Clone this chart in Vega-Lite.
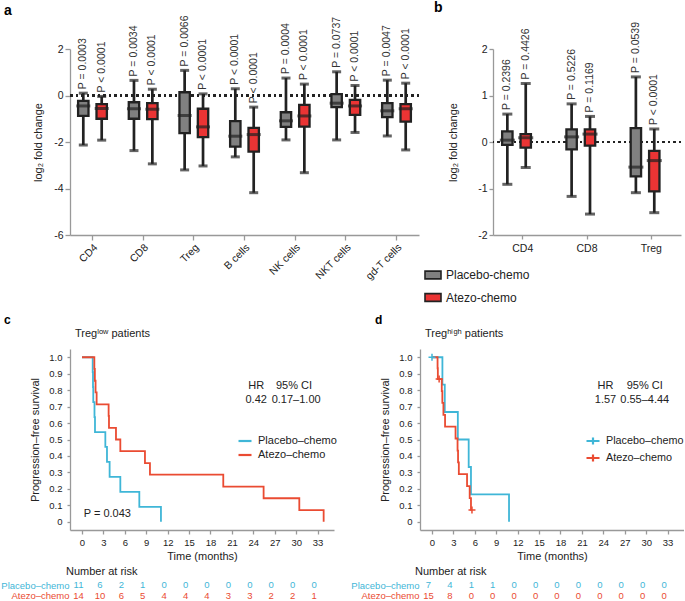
{
  "$schema": "https://vega.github.io/schema/vega-lite/v6.json",
  "padding": 0,
  "autosize": {"type": "pad"},
  "config": {
    "font": "Liberation Sans",
    "view": {"stroke": null},
    "axis": {"grid": false, "domainColor": "#999999", "tickColor": "#999999", "domainWidth": 1.3, "tickWidth": 1.3, "labelColor": "#222222", "titleColor": "#222222", "labelFontSize": 10.5, "titleFontSize": 11, "titleFontWeight": "normal", "labelOverlap": false},
    "title": {"anchor": "start", "frame": "group", "fontSize": 14, "fontWeight": "bold", "color": "#000000"},
    "legend": {"labelColor": "#222222"}
  },
  "datasets": {
    "boxA": [
      {"cell": "CD4", "group": "Placebo-chemo", "min": -2.13, "q1": -0.88, "median": -0.45, "q3": -0.23, "max": 0.1, "p": "P = 0.0003"},
      {"cell": "CD4", "group": "Atezo-chemo", "min": -1.92, "q1": -1.0, "median": -0.56, "q3": -0.37, "max": -0.04, "p": "P < 0.0001"},
      {"cell": "CD8", "group": "Placebo-chemo", "min": -2.37, "q1": -1.0, "median": -0.57, "q3": -0.29, "max": 0.65, "p": "P = 0.0034"},
      {"cell": "CD8", "group": "Atezo-chemo", "min": -2.94, "q1": -1.02, "median": -0.59, "q3": -0.33, "max": 0.27, "p": "P < 0.0001"},
      {"cell": "Treg", "group": "Placebo-chemo", "min": -3.2, "q1": -1.62, "median": -0.86, "q3": 0.14, "max": 1.08, "p": "P = 0.0066"},
      {"cell": "Treg", "group": "Atezo-chemo", "min": -3.03, "q1": -1.79, "median": -1.35, "q3": -0.57, "max": 0.07, "p": "P < 0.0001"},
      {"cell": "B cells", "group": "Placebo-chemo", "min": -2.64, "q1": -2.2, "median": -1.75, "q3": -1.1, "max": 0.29, "p": "P < 0.0001"},
      {"cell": "B cells", "group": "Atezo-chemo", "min": -4.18, "q1": -2.41, "median": -1.68, "q3": -1.39, "max": -0.5, "p": "P < 0.0001"},
      {"cell": "NK cells", "group": "Placebo-chemo", "min": -1.91, "q1": -1.35, "median": -1.09, "q3": -0.72, "max": 0.75, "p": "P = 0.0004"},
      {"cell": "NK cells", "group": "Atezo-chemo", "min": -3.32, "q1": -1.34, "median": -0.88, "q3": -0.4, "max": 0.49, "p": "P < 0.0001"},
      {"cell": "NKT cells", "group": "Placebo-chemo", "min": -1.91, "q1": -0.5, "median": -0.33, "q3": 0.06, "max": 1.02, "p": "P = 0.0737"},
      {"cell": "NKT cells", "group": "Atezo-chemo", "min": -1.59, "q1": -0.83, "median": -0.45, "q3": -0.19, "max": 0.43, "p": "P < 0.0001"},
      {"cell": "gd-T cells", "group": "Placebo-chemo", "min": -1.74, "q1": -0.93, "median": -0.66, "q3": -0.33, "max": 0.66, "p": "P = 0.0047"},
      {"cell": "gd-T cells", "group": "Atezo-chemo", "min": -2.34, "q1": -1.12, "median": -0.57, "q3": -0.37, "max": 0.53, "p": "P < 0.0001"}
    ],
    "boxB": [
      {"cell": "CD4", "group": "Placebo-chemo", "min": -0.91, "q1": -0.06, "median": 0.04, "q3": 0.23, "max": 0.6, "p": "P = 0.2396"},
      {"cell": "CD4", "group": "Atezo-chemo", "min": -0.55, "q1": -0.12, "median": 0.09, "q3": 0.17, "max": 1.26, "p": "P = 0.4426"},
      {"cell": "CD8", "group": "Placebo-chemo", "min": -1.17, "q1": -0.16, "median": 0.11, "q3": 0.27, "max": 0.82, "p": "P = 0.5226"},
      {"cell": "CD8", "group": "Atezo-chemo", "min": -1.55, "q1": -0.08, "median": 0.17, "q3": 0.27, "max": 0.55, "p": "P = 0.1169"},
      {"cell": "Treg", "group": "Placebo-chemo", "min": -1.09, "q1": -0.74, "median": -0.54, "q3": 0.3, "max": 1.4, "p": "P = 0.0539"},
      {"cell": "Treg", "group": "Atezo-chemo", "min": -1.52, "q1": -1.06, "median": -0.4, "q3": -0.19, "max": 0.28, "p": "P < 0.0001"}
    ],
    "kmC": [
      {"group": "Placebo–chemo", "t": 0, "s": 1},
      {"group": "Placebo–chemo", "t": 1.5, "s": 0.909},
      {"group": "Placebo–chemo", "t": 1.54, "s": 0.818},
      {"group": "Placebo–chemo", "t": 1.58, "s": 0.727},
      {"group": "Placebo–chemo", "t": 1.75, "s": 0.636},
      {"group": "Placebo–chemo", "t": 1.82, "s": 0.545},
      {"group": "Placebo–chemo", "t": 3.27, "s": 0.455},
      {"group": "Placebo–chemo", "t": 3.5, "s": 0.364},
      {"group": "Placebo–chemo", "t": 3.87, "s": 0.273},
      {"group": "Placebo–chemo", "t": 5.37, "s": 0.182},
      {"group": "Placebo–chemo", "t": 8.03, "s": 0.091},
      {"group": "Placebo–chemo", "t": 11.06, "s": 0},
      {"group": "Atezo–chemo", "t": 0, "s": 1},
      {"group": "Atezo–chemo", "t": 1.73, "s": 0.929},
      {"group": "Atezo–chemo", "t": 1.8, "s": 0.857},
      {"group": "Atezo–chemo", "t": 1.9, "s": 0.786},
      {"group": "Atezo–chemo", "t": 2.05, "s": 0.714},
      {"group": "Atezo–chemo", "t": 3.73, "s": 0.643},
      {"group": "Atezo–chemo", "t": 3.78, "s": 0.571},
      {"group": "Atezo–chemo", "t": 4.76, "s": 0.5},
      {"group": "Atezo–chemo", "t": 5.37, "s": 0.429},
      {"group": "Atezo–chemo", "t": 8.82, "s": 0.357},
      {"group": "Atezo–chemo", "t": 9.52, "s": 0.286},
      {"group": "Atezo–chemo", "t": 19.79, "s": 0.214},
      {"group": "Atezo–chemo", "t": 25.44, "s": 0.143},
      {"group": "Atezo–chemo", "t": 30.44, "s": 0.071},
      {"group": "Atezo–chemo", "t": 33.85, "s": 0}
    ],
    "kmD": [
      {"group": "Placebo–chemo", "t": 0, "s": 1},
      {"group": "Placebo–chemo", "t": 1.46, "s": 0.833},
      {"group": "Placebo–chemo", "t": 1.79, "s": 0.667},
      {"group": "Placebo–chemo", "t": 3.62, "s": 0.5},
      {"group": "Placebo–chemo", "t": 5.14, "s": 0.333},
      {"group": "Placebo–chemo", "t": 5.46, "s": 0.167},
      {"group": "Placebo–chemo", "t": 10.79, "s": 0},
      {"group": "Atezo–chemo", "t": 0, "s": 1},
      {"group": "Atezo–chemo", "t": 0.78, "s": 0.933},
      {"group": "Atezo–chemo", "t": 0.82, "s": 0.867},
      {"group": "Atezo–chemo", "t": 1.37, "s": 0.794},
      {"group": "Atezo–chemo", "t": 1.45, "s": 0.722},
      {"group": "Atezo–chemo", "t": 1.6, "s": 0.65},
      {"group": "Atezo–chemo", "t": 1.83, "s": 0.578},
      {"group": "Atezo–chemo", "t": 3.3, "s": 0.506},
      {"group": "Atezo–chemo", "t": 3.58, "s": 0.433},
      {"group": "Atezo–chemo", "t": 3.65, "s": 0.361},
      {"group": "Atezo–chemo", "t": 3.76, "s": 0.289},
      {"group": "Atezo–chemo", "t": 4.91, "s": 0.217},
      {"group": "Atezo–chemo", "t": 5.28, "s": 0.144},
      {"group": "Atezo–chemo", "t": 5.46, "s": 0.072},
      {"group": "Atezo–chemo", "t": 5.6, "s": 0.072}
    ],
    "censorD": [
      {"group": "Placebo–chemo", "t": 0, "s": 1},
      {"group": "Atezo–chemo", "t": 1.0, "s": 0.867},
      {"group": "Atezo–chemo", "t": 5.6, "s": 0.072}
    ],
    "riskC": [
      {"group": "Placebo–chemo", "t": 0, "n": 11}, {"group": "Placebo–chemo", "t": 3, "n": 6}, {"group": "Placebo–chemo", "t": 6, "n": 2}, {"group": "Placebo–chemo", "t": 9, "n": 1},
      {"group": "Placebo–chemo", "t": 12, "n": 0}, {"group": "Placebo–chemo", "t": 15, "n": 0}, {"group": "Placebo–chemo", "t": 18, "n": 0}, {"group": "Placebo–chemo", "t": 21, "n": 0},
      {"group": "Placebo–chemo", "t": 24, "n": 0}, {"group": "Placebo–chemo", "t": 27, "n": 0}, {"group": "Placebo–chemo", "t": 30, "n": 0}, {"group": "Placebo–chemo", "t": 33, "n": 0},
      {"group": "Atezo–chemo", "t": 0, "n": 14}, {"group": "Atezo–chemo", "t": 3, "n": 10}, {"group": "Atezo–chemo", "t": 6, "n": 6}, {"group": "Atezo–chemo", "t": 9, "n": 5},
      {"group": "Atezo–chemo", "t": 12, "n": 4}, {"group": "Atezo–chemo", "t": 15, "n": 4}, {"group": "Atezo–chemo", "t": 18, "n": 4}, {"group": "Atezo–chemo", "t": 21, "n": 3},
      {"group": "Atezo–chemo", "t": 24, "n": 3}, {"group": "Atezo–chemo", "t": 27, "n": 2}, {"group": "Atezo–chemo", "t": 30, "n": 2}, {"group": "Atezo–chemo", "t": 33, "n": 1}
    ],
    "riskD": [
      {"group": "Placebo–chemo", "t": 0, "n": 7}, {"group": "Placebo–chemo", "t": 3, "n": 4}, {"group": "Placebo–chemo", "t": 6, "n": 1}, {"group": "Placebo–chemo", "t": 9, "n": 1},
      {"group": "Placebo–chemo", "t": 12, "n": 0}, {"group": "Placebo–chemo", "t": 15, "n": 0}, {"group": "Placebo–chemo", "t": 18, "n": 0}, {"group": "Placebo–chemo", "t": 21, "n": 0},
      {"group": "Placebo–chemo", "t": 24, "n": 0}, {"group": "Placebo–chemo", "t": 27, "n": 0}, {"group": "Placebo–chemo", "t": 30, "n": 0}, {"group": "Placebo–chemo", "t": 33, "n": 0},
      {"group": "Atezo–chemo", "t": 0, "n": 15}, {"group": "Atezo–chemo", "t": 3, "n": 8}, {"group": "Atezo–chemo", "t": 6, "n": 0}, {"group": "Atezo–chemo", "t": 9, "n": 0},
      {"group": "Atezo–chemo", "t": 12, "n": 0}, {"group": "Atezo–chemo", "t": 15, "n": 0}, {"group": "Atezo–chemo", "t": 18, "n": 0}, {"group": "Atezo–chemo", "t": 21, "n": 0},
      {"group": "Atezo–chemo", "t": 24, "n": 0}, {"group": "Atezo–chemo", "t": 27, "n": 0}, {"group": "Atezo–chemo", "t": 30, "n": 0}, {"group": "Atezo–chemo", "t": 33, "n": 0}
    ]
  },
  "spacing": 9,
  "resolve": {"scale": {"color": "independent", "fill": "independent"}, "legend": {"color": "independent", "fill": "independent"}},
  "vconcat": [
    {
      "hconcat": [
        {
          "width": 349, "height": 186,
          "title": {"text": "a", "dx": -66, "offset": -3, "fontSize": 14},
          "data": {"name": "boxA"},
          "layer": [
            {"mark": {"type": "rule", "strokeDash": [2, 3.5], "strokeWidth": 2, "color": "#222222"},
             "encoding": {"y": {"datum": 0, "type": "quantitative"}}},
            {"mark": {"type": "rule", "color": "#222222", "strokeWidth": 2.7},
             "encoding": {
               "x": {"field": "cell", "type": "nominal", "sort": ["CD4", "CD8", "Treg", "B cells", "NK cells", "NKT cells", "gd-T cells"], "scale": {"paddingInner": 0.274, "paddingOuter": 0.081}, "axis": {"title": null, "labelAngle": -45, "labelFontSize": 10.5, "tickSize": 5, "labelPadding": 2}},
               "xOffset": {"field": "group", "type": "nominal", "sort": ["Placebo-chemo", "Atezo-chemo"], "scale": {"paddingInner": 0.435, "paddingOuter": 0.2175}},
               "y": {"field": "min", "type": "quantitative", "title": "log₂ fold change", "scale": {"domain": [-6, 2], "nice": false, "zero": false}, "axis": {"values": [-6, -4, -2, 0, 2], "tickSize": 5, "labelPadding": 2, "titlePadding": 10, "labelExpr": "replace(datum.label, '−', '-')"}},
               "y2": {"field": "max"}
             }},
            {"mark": {"type": "tick", "color": "#222222", "thickness": 3, "size": 9},
             "encoding": {
               "x": {"field": "cell", "type": "nominal", "sort": ["CD4", "CD8", "Treg", "B cells", "NK cells", "NKT cells", "gd-T cells"]},
               "xOffset": {"field": "group", "type": "nominal", "sort": ["Placebo-chemo", "Atezo-chemo"]},
               "y": {"field": "min", "type": "quantitative", "title": "log₂ fold change"}
             }},
            {"mark": {"type": "tick", "color": "#222222", "thickness": 3, "size": 9},
             "encoding": {
               "x": {"field": "cell", "type": "nominal", "sort": ["CD4", "CD8", "Treg", "B cells", "NK cells", "NKT cells", "gd-T cells"]},
               "xOffset": {"field": "group", "type": "nominal", "sort": ["Placebo-chemo", "Atezo-chemo"]},
               "y": {"field": "max", "type": "quantitative", "title": "log₂ fold change"}
             }},
            {"mark": {"type": "bar", "stroke": "#222222", "strokeWidth": 2.3},
             "encoding": {
               "x": {"field": "cell", "type": "nominal", "sort": ["CD4", "CD8", "Treg", "B cells", "NK cells", "NKT cells", "gd-T cells"]},
               "xOffset": {"field": "group", "type": "nominal", "sort": ["Placebo-chemo", "Atezo-chemo"]},
               "y": {"field": "q1", "type": "quantitative", "title": "log₂ fold change"},
               "y2": {"field": "q3"},
               "fill": {"field": "group", "type": "nominal", "scale": {"domain": ["Placebo-chemo", "Atezo-chemo"], "range": ["#808080", "#eb3434"]}, "legend": null}
             }},
            {"mark": {"type": "tick", "color": "#222222", "thickness": 3, "size": 14},
             "encoding": {
               "x": {"field": "cell", "type": "nominal", "sort": ["CD4", "CD8", "Treg", "B cells", "NK cells", "NKT cells", "gd-T cells"]},
               "xOffset": {"field": "group", "type": "nominal", "sort": ["Placebo-chemo", "Atezo-chemo"]},
               "y": {"field": "median", "type": "quantitative", "title": "log₂ fold change"}
             }},
            {"mark": {"type": "text", "angle": 270, "align": "left", "baseline": "middle", "dx": 4, "fontSize": 10.5, "color": "#333333"},
             "encoding": {
               "x": {"field": "cell", "type": "nominal", "sort": ["CD4", "CD8", "Treg", "B cells", "NK cells", "NKT cells", "gd-T cells"]},
               "xOffset": {"field": "group", "type": "nominal", "sort": ["Placebo-chemo", "Atezo-chemo"]},
               "y": {"field": "max", "type": "quantitative", "title": "log₂ fold change"},
               "text": {"field": "p"}
             }}
          ]
        },
        {
          "width": 188, "height": 186,
          "title": {"text": "b", "dx": -59, "offset": 7, "fontSize": 14},
          "data": {"name": "boxB"},
          "layer": [
            {"mark": {"type": "rule", "strokeDash": [2, 3.5], "strokeWidth": 2, "color": "#222222"},
             "encoding": {"y": {"datum": 0, "type": "quantitative"}}},
            {"mark": {"type": "rule", "color": "#222222", "strokeWidth": 2.7},
             "encoding": {
               "x": {"field": "cell", "type": "nominal", "sort": ["CD4", "CD8", "Treg"], "scale": {"paddingInner": 0.235, "paddingOuter": 0.08}, "axis": {"title": null, "labelAngle": 0, "labelFontSize": 10.5, "tickSize": 4, "labelPadding": 4}},
               "xOffset": {"field": "group", "type": "nominal", "sort": ["Placebo-chemo", "Atezo-chemo"], "scale": {"paddingInner": 0.606, "paddingOuter": 0.303}},
               "y": {"field": "min", "type": "quantitative", "title": "log₂ fold change", "scale": {"domain": [-2, 2], "nice": false, "zero": false}, "axis": {"values": [-2, -1, 0, 1, 2], "tickSize": 4, "labelPadding": 2, "titlePadding": 19, "labelExpr": "replace(datum.label, '−', '-')"}},
               "y2": {"field": "max"}
             }},
            {"mark": {"type": "tick", "color": "#222222", "thickness": 3, "size": 10},
             "encoding": {
               "x": {"field": "cell", "type": "nominal", "sort": ["CD4", "CD8", "Treg"]},
               "xOffset": {"field": "group", "type": "nominal", "sort": ["Placebo-chemo", "Atezo-chemo"]},
               "y": {"field": "min", "type": "quantitative", "title": "log₂ fold change"}
             }},
            {"mark": {"type": "tick", "color": "#222222", "thickness": 3, "size": 10},
             "encoding": {
               "x": {"field": "cell", "type": "nominal", "sort": ["CD4", "CD8", "Treg"]},
               "xOffset": {"field": "group", "type": "nominal", "sort": ["Placebo-chemo", "Atezo-chemo"]},
               "y": {"field": "max", "type": "quantitative", "title": "log₂ fold change"}
             }},
            {"mark": {"type": "bar", "stroke": "#222222", "strokeWidth": 2.3},
             "encoding": {
               "x": {"field": "cell", "type": "nominal", "sort": ["CD4", "CD8", "Treg"]},
               "xOffset": {"field": "group", "type": "nominal", "sort": ["Placebo-chemo", "Atezo-chemo"]},
               "y": {"field": "q1", "type": "quantitative", "title": "log₂ fold change"},
               "y2": {"field": "q3"},
               "fill": {"field": "group", "type": "nominal", "scale": {"domain": ["Placebo-chemo", "Atezo-chemo"], "range": ["#808080", "#eb3434"]},
                 "legend": {"orient": "none", "legendX": -69, "legendY": 217, "title": null, "symbolType": "M-1,-0.48H1V0.48H-1Z", "symbolSize": 256, "symbolStrokeColor": "#222222", "symbolStrokeWidth": 1.6, "labelFontSize": 12, "labelOffset": 4, "rowPadding": 5.5}}
             }},
            {"mark": {"type": "tick", "color": "#222222", "thickness": 3, "size": 15},
             "encoding": {
               "x": {"field": "cell", "type": "nominal", "sort": ["CD4", "CD8", "Treg"]},
               "xOffset": {"field": "group", "type": "nominal", "sort": ["Placebo-chemo", "Atezo-chemo"]},
               "y": {"field": "median", "type": "quantitative", "title": "log₂ fold change"}
             }},
            {"mark": {"type": "text", "angle": 270, "align": "left", "baseline": "middle", "dx": 4, "fontSize": 10.5, "color": "#333333"},
             "encoding": {
               "x": {"field": "cell", "type": "nominal", "sort": ["CD4", "CD8", "Treg"]},
               "xOffset": {"field": "group", "type": "nominal", "sort": ["Placebo-chemo", "Atezo-chemo"]},
               "y": {"field": "max", "type": "quantitative", "title": "log₂ fold change"},
               "text": {"field": "p"}
             }}
          ]
        }
      ],
      "spacing": 74,
      "bounds": "flush",
      "resolve": {"scale": {"color": "independent", "fill": "independent"}, "legend": {"color": "independent", "fill": "independent"}}
    },
    {
      "hconcat": [
        {
          "vconcat": [
            {
              "width": 264, "height": 181,
              "title": {"text": "c", "dx": -66, "offset": 1, "fontSize": 12},
              "layer": [
                {"data": {"name": "kmC"},
                 "mark": {"type": "line", "interpolate": "step-after", "strokeWidth": 1.8},
                 "encoding": {
                   "x": {"field": "t", "type": "quantitative", "title": "Time (months)", "scale": {"domain": [-1.68, 35.3], "nice": false, "zero": false}, "axis": {"values": [0, 3, 6, 9, 12, 15, 18, 21, 24, 27, 30, 33], "tickCount": 30, "tickSize": 4, "labelPadding": 3, "titlePadding": 4, "labelFontSize": 9.5, "titleFontSize": 11}},
                   "y": {"field": "s", "type": "quantitative", "title": "Progression–free survival", "scale": {"domain": [-0.05, 1.05], "nice": false, "zero": false}, "axis": {"values": [0, 0.1, 0.2, 0.3, 0.4, 0.5, 0.6, 0.7, 0.8, 0.9, 1], "tickCount": 30, "labelExpr": "datum.value == 0 ? '0' : format(datum.value, '.1f')", "tickSize": 3, "labelPadding": 5, "titlePadding": 8, "labelFontSize": 9.5, "titleFontSize": 11}},
                   "color": {"field": "group", "type": "nominal", "sort": ["Placebo–chemo", "Atezo–chemo"], "scale": {"domain": ["Placebo–chemo", "Atezo–chemo"], "range": ["#3fb6d7", "#ea4b32"]},
                     "legend": {"orient": "none", "legendX": 167, "legendY": 84, "title": null, "symbolType": "stroke", "symbolSize": 169, "symbolStrokeWidth": 2.2, "labelFontSize": 11, "labelOffset": 5, "rowPadding": 1}}
                 }},
                {"data": {"values": [{}]},
                 "mark": {"type": "text", "text": "Tregˡᵒʷ patients", "align": "left", "baseline": "middle", "fontSize": 11, "color": "#222222"},
                 "encoding": {
                   "x": {"datum": -0.98, "type": "quantitative", "title": "Time (months)", "axis": {"values": [0, 3, 6, 9, 12, 15, 18, 21, 24, 27, 30, 33], "tickCount": 30, "tickSize": 4, "labelPadding": 3, "titlePadding": 4, "labelFontSize": 9.5, "titleFontSize": 11}},
                   "y": {"datum": 1.139, "type": "quantitative", "title": "Progression–free survival", "axis": {"values": [0, 0.1, 0.2, 0.3, 0.4, 0.5, 0.6, 0.7, 0.8, 0.9, 1], "tickCount": 30, "labelExpr": "datum.value == 0 ? '0' : format(datum.value, '.1f')", "tickSize": 3, "labelPadding": 5, "titlePadding": 8, "labelFontSize": 9.5, "titleFontSize": 11}}
                 }},
                {"data": {"values": [{}]},
                 "mark": {"type": "text", "text": "HR", "align": "center", "baseline": "middle", "fontSize": 11, "color": "#222222"},
                 "encoding": {"x": {"datum": 24.4, "type": "quantitative", "title": "Time (months)"}, "y": {"datum": 0.826, "type": "quantitative", "title": "Progression–free survival"}}},
                {"data": {"values": [{}]},
                 "mark": {"type": "text", "text": "95% CI", "align": "center", "baseline": "middle", "fontSize": 11, "color": "#222222"},
                 "encoding": {"x": {"datum": 29.7, "type": "quantitative", "title": "Time (months)"}, "y": {"datum": 0.826, "type": "quantitative", "title": "Progression–free survival"}}},
                {"data": {"values": [{}]},
                 "mark": {"type": "text", "text": "0.42", "align": "center", "baseline": "middle", "fontSize": 11, "color": "#222222"},
                 "encoding": {"x": {"datum": 24.4, "type": "quantitative", "title": "Time (months)"}, "y": {"datum": 0.739, "type": "quantitative", "title": "Progression–free survival"}}},
                {"data": {"values": [{}]},
                 "mark": {"type": "text", "text": "0.17–1.00", "align": "center", "baseline": "middle", "fontSize": 11, "color": "#222222"},
                 "encoding": {"x": {"datum": 30.0, "type": "quantitative", "title": "Time (months)"}, "y": {"datum": 0.739, "type": "quantitative", "title": "Progression–free survival"}}},
                {"data": {"values": [{}]},
                 "mark": {"type": "text", "text": "P = 0.043", "align": "left", "baseline": "middle", "fontSize": 11, "color": "#222222"},
                 "encoding": {"x": {"datum": 0.24, "type": "quantitative", "title": "Time (months)"}, "y": {"datum": 0.047, "type": "quantitative", "title": "Progression–free survival"}}}
              ]
            },
            {
              "width": 264, "height": 21,
              "title": {"text": "Number at risk", "dx": -4, "offset": 3, "fontSize": 11, "fontWeight": "normal", "color": "#222222"},
              "data": {"name": "riskC"},
              "mark": {"type": "text", "fontSize": 9.5, "dx": -3.5, "baseline": "middle"},
              "encoding": {
                "x": {"field": "t", "type": "quantitative", "scale": {"domain": [-1.68, 35.3], "nice": false, "zero": false}, "axis": null},
                "y": {"field": "group", "type": "nominal", "sort": ["Placebo–chemo", "Atezo–chemo"], "axis": {"title": null, "domain": false, "ticks": false, "labelPadding": 1, "labelFontSize": 9.5, "labelColor": {"condition": {"test": "datum.value === 'Placebo–chemo'", "value": "#3fb6d7"}, "value": "#ea4b32"}}},
                "text": {"field": "n", "type": "quantitative"},
                "color": {"field": "group", "type": "nominal", "scale": {"domain": ["Placebo–chemo", "Atezo–chemo"], "range": ["#3fb6d7", "#ea4b32"]}, "legend": null}
              }
            }
          ],
          "spacing": 50,
          "bounds": "flush",
          "resolve": {"scale": {"color": "independent", "fill": "independent"}, "legend": {"color": "independent", "fill": "independent"}}
        },
        {
          "vconcat": [
            {
              "width": 264, "height": 181,
              "title": {"text": "d", "dx": -45, "offset": 1, "fontSize": 12},
              "layer": [
                {"data": {"name": "kmD"},
                 "mark": {"type": "line", "interpolate": "step-after", "strokeWidth": 1.8},
                 "encoding": {
                   "x": {"field": "t", "type": "quantitative", "title": "Time (months)", "scale": {"domain": [-1.68, 35.3], "nice": false, "zero": false}, "axis": {"values": [0, 3, 6, 9, 12, 15, 18, 21, 24, 27, 30, 33], "tickCount": 30, "tickSize": 4, "labelPadding": 3, "titlePadding": 4, "labelFontSize": 9.5, "titleFontSize": 11}},
                   "y": {"field": "s", "type": "quantitative", "title": "Progression–free survival", "scale": {"domain": [-0.05, 1.05], "nice": false, "zero": false}, "axis": {"values": [0, 0.1, 0.2, 0.3, 0.4, 0.5, 0.6, 0.7, 0.8, 0.9, 1], "tickCount": 30, "labelExpr": "datum.value == 0 ? '0' : format(datum.value, '.1f')", "tickSize": 3, "labelPadding": 5, "titlePadding": 8, "labelFontSize": 9.5, "titleFontSize": 11}},
                   "color": {"field": "group", "type": "nominal", "sort": ["Placebo–chemo", "Atezo–chemo"], "scale": {"domain": ["Placebo–chemo", "Atezo–chemo"], "range": ["#3fb6d7", "#ea4b32"]},
                     "legend": {"orient": "none", "legendX": 165, "legendY": 84, "title": null, "symbolType": "M-1,0H1M0,-0.55V0.55", "symbolSize": 169, "symbolStrokeWidth": 2.2, "symbolFillColor": "transparent", "labelFontSize": 10.8, "labelOffset": 5, "rowPadding": 1}}
                 }},
                {"data": {"name": "censorD"},
                 "mark": {"type": "point", "shape": "M-1,0H1M0,-1V1", "filled": false, "size": 49, "strokeWidth": 1.5, "opacity": 1},
                 "encoding": {
                   "x": {"field": "t", "type": "quantitative", "title": "Time (months)", "axis": {"values": [0, 3, 6, 9, 12, 15, 18, 21, 24, 27, 30, 33], "tickCount": 30, "tickSize": 4, "labelPadding": 3, "titlePadding": 4, "labelFontSize": 9.5, "titleFontSize": 11}},
                   "y": {"field": "s", "type": "quantitative", "title": "Progression–free survival", "axis": {"values": [0, 0.1, 0.2, 0.3, 0.4, 0.5, 0.6, 0.7, 0.8, 0.9, 1], "tickCount": 30, "labelExpr": "datum.value == 0 ? '0' : format(datum.value, '.1f')", "tickSize": 3, "labelPadding": 5, "titlePadding": 8, "labelFontSize": 9.5, "titleFontSize": 11}},
                   "color": {"field": "group", "type": "nominal", "sort": ["Placebo–chemo", "Atezo–chemo"], "scale": {"domain": ["Placebo–chemo", "Atezo–chemo"], "range": ["#3fb6d7", "#ea4b32"]}}
                 }},
                {"data": {"values": [{}]},
                 "mark": {"type": "text", "text": "Tregʰⁱᵍʰ patients", "align": "left", "baseline": "middle", "fontSize": 11, "color": "#222222"},
                 "encoding": {"x": {"datum": -0.98, "type": "quantitative", "title": "Time (months)"}, "y": {"datum": 1.139, "type": "quantitative", "title": "Progression–free survival"}}},
                {"data": {"values": [{}]},
                 "mark": {"type": "text", "text": "HR", "align": "center", "baseline": "middle", "fontSize": 11, "color": "#222222"},
                 "encoding": {"x": {"datum": 24.3, "type": "quantitative", "title": "Time (months)"}, "y": {"datum": 0.826, "type": "quantitative", "title": "Progression–free survival"}}},
                {"data": {"values": [{}]},
                 "mark": {"type": "text", "text": "95% CI", "align": "center", "baseline": "middle", "fontSize": 11, "color": "#222222"},
                 "encoding": {"x": {"datum": 29.8, "type": "quantitative", "title": "Time (months)"}, "y": {"datum": 0.826, "type": "quantitative", "title": "Progression–free survival"}}},
                {"data": {"values": [{}]},
                 "mark": {"type": "text", "text": "1.57", "align": "center", "baseline": "middle", "fontSize": 11, "color": "#222222"},
                 "encoding": {"x": {"datum": 24.3, "type": "quantitative", "title": "Time (months)"}, "y": {"datum": 0.739, "type": "quantitative", "title": "Progression–free survival"}}},
                {"data": {"values": [{}]},
                 "mark": {"type": "text", "text": "0.55–4.44", "align": "center", "baseline": "middle", "fontSize": 11, "color": "#222222"},
                 "encoding": {"x": {"datum": 29.8, "type": "quantitative", "title": "Time (months)"}, "y": {"datum": 0.739, "type": "quantitative", "title": "Progression–free survival"}}}
              ]
            },
            {
              "width": 264, "height": 21,
              "title": {"text": "Number at risk", "dx": -5, "offset": 3, "fontSize": 11, "fontWeight": "normal", "color": "#222222"},
              "data": {"name": "riskD"},
              "mark": {"type": "text", "fontSize": 9.5, "dx": -3.5, "baseline": "middle"},
              "encoding": {
                "x": {"field": "t", "type": "quantitative", "scale": {"domain": [-1.68, 35.3], "nice": false, "zero": false}, "axis": null},
                "y": {"field": "group", "type": "nominal", "sort": ["Placebo–chemo", "Atezo–chemo"], "axis": {"title": null, "domain": false, "ticks": false, "labelPadding": 1, "labelFontSize": 9.5, "labelColor": {"condition": {"test": "datum.value === 'Placebo–chemo'", "value": "#3fb6d7"}, "value": "#ea4b32"}}},
                "text": {"field": "n", "type": "quantitative"},
                "color": {"field": "group", "type": "nominal", "scale": {"domain": ["Placebo–chemo", "Atezo–chemo"], "range": ["#3fb6d7", "#ea4b32"]}, "legend": null}
              }
            }
          ],
          "spacing": 50,
          "bounds": "flush",
          "resolve": {"scale": {"color": "independent", "fill": "independent"}, "legend": {"color": "independent", "fill": "independent"}}
        }
      ],
      "spacing": 13,
      "resolve": {"scale": {"color": "independent", "fill": "independent"}, "legend": {"color": "independent", "fill": "independent"}}
    }
  ]
}
